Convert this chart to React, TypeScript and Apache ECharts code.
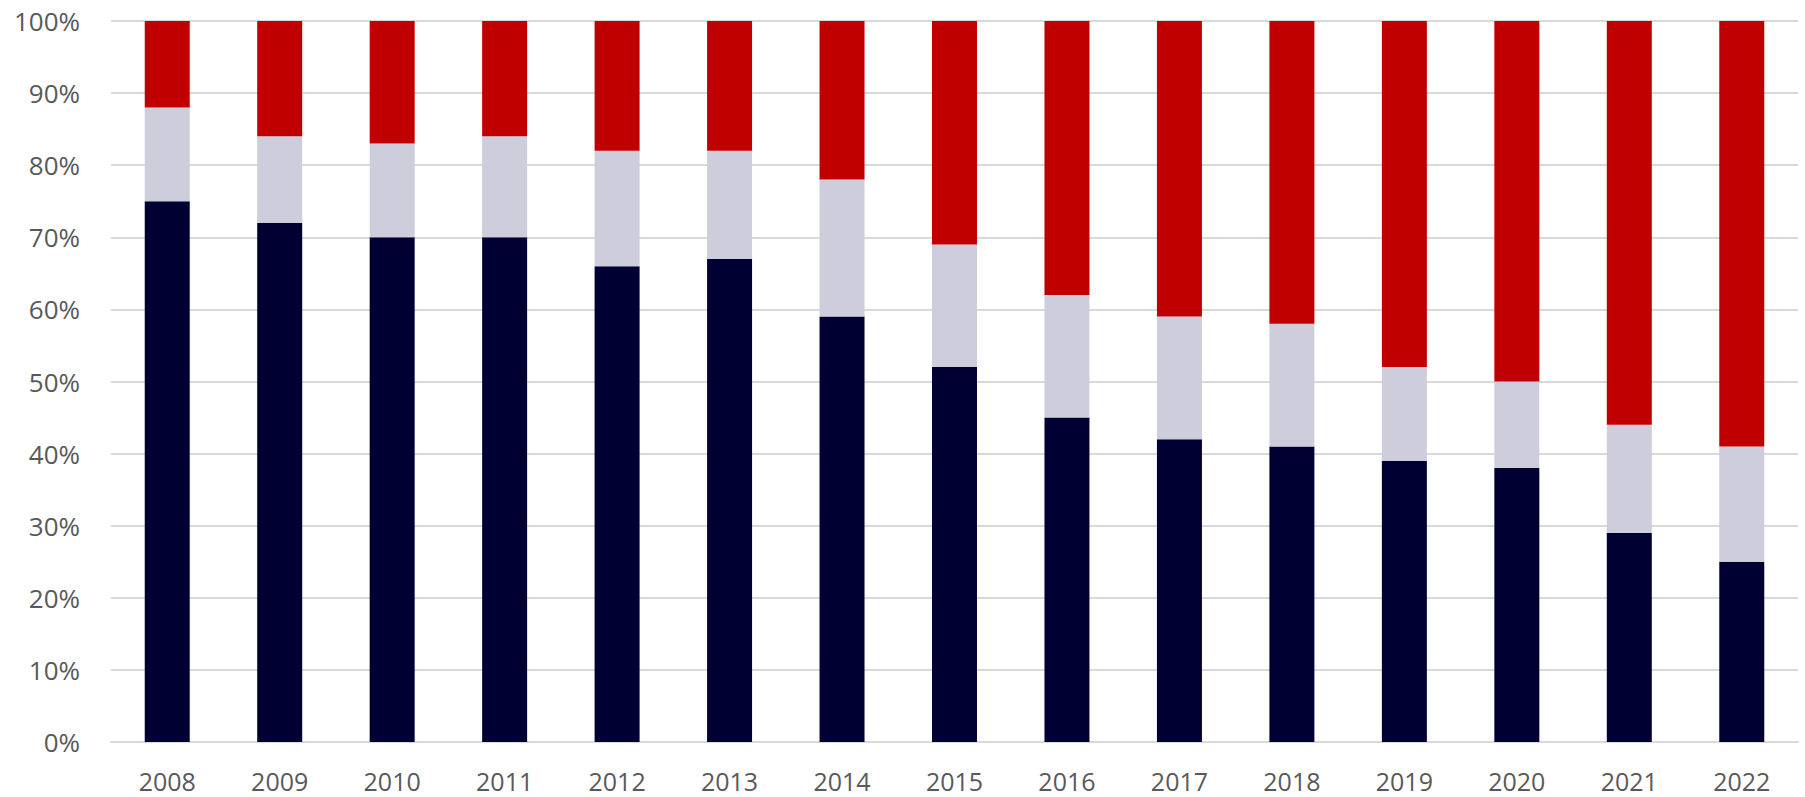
import React, { useEffect, useRef } from "react";
import * as echarts from "echarts";

const years = ["2008","2009","2010","2011","2012","2013","2014","2015","2016","2017","2018","2019","2020","2021","2022"];
const navyValues = [75, 72, 70, 70, 66, 67, 59, 52, 45, 42, 41, 39, 38, 29, 25];
const grayValues = [13, 12, 13, 14, 16, 15, 19, 17, 17, 17, 17, 13, 12, 15, 16];
const redValues = [12, 16, 17, 16, 18, 18, 22, 31, 38, 41, 42, 48, 50, 56, 59];

export default function App() {
  const ref = useRef<HTMLDivElement>(null);
  useEffect(() => {
    const chart = echarts.init(ref.current!, undefined, { renderer: "svg" });
    const font = "Open Sans";
    chart.setOption({
      animation: false,
      grid: { left: 111, right: 7, top: 21, bottom: 55, containLabel: false },
      xAxis: {
        type: "category",
        data: years,
        axisLine: { show: true, lineStyle: { color: "#d9d9d9", width: 2 } },
        axisTick: { show: false },
        axisLabel: { color: "#595959", fontSize: 25, lineHeight: 22, fontFamily: font, margin: 28 },
      },
      yAxis: {
        type: "value",
        min: 0,
        max: 100,
        interval: 10,
        axisLine: { show: false },
        axisTick: { show: false },
        splitLine: { lineStyle: { color: "#d9d9d9", width: 2 } },
        axisLabel: { color: "#595959", fontSize: 26, fontFamily: font, margin: 31, formatter: "{value}%" },
      },
      series: [
        { type: "bar", stack: "t", data: navyValues, barWidth: "40%", itemStyle: { color: "#000033" } },
        { type: "bar", stack: "t", data: grayValues, barWidth: "40%", itemStyle: { color: "#CDCDDC" } },
        { type: "bar", stack: "t", data: redValues, barWidth: "40%", itemStyle: { color: "#C00000" } },
      ],
    });
    return () => chart.dispose();
  }, []);
  return <div ref={ref} style={{ width: 1805, height: 797, position: "absolute", left: 0, top: 0 }} />;
}
